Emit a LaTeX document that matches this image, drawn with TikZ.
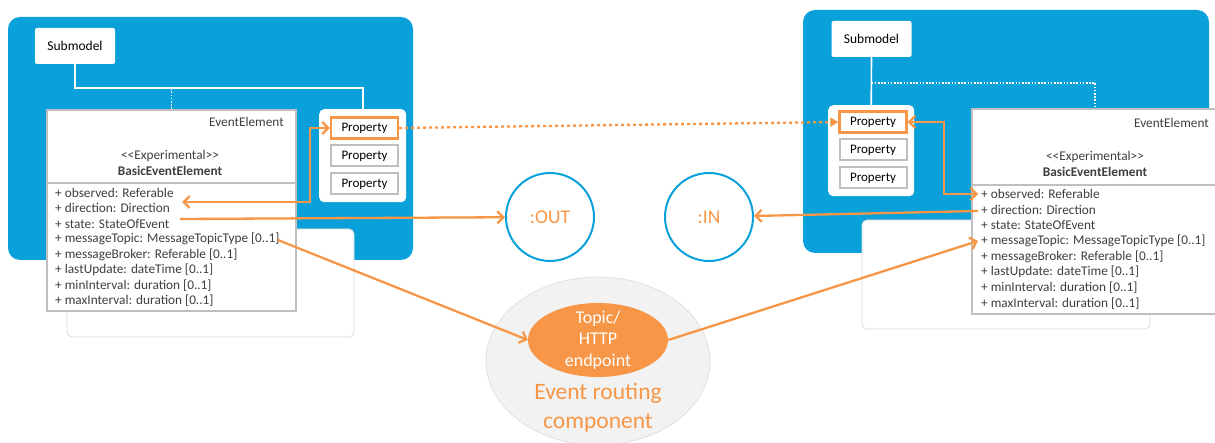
\documentclass[tikz,border=0pt]{standalone}
\usepackage{fontspec}
\setmainfont{Carlito}
\usetikzlibrary{arrows.meta,shapes.geometric}
\definecolor{aasblue}{HTML}{0AA1DA}
\definecolor{evorange}{HTML}{F79646}
\definecolor{txtgray}{HTML}{3F3F3F}
\definecolor{boxgray}{HTML}{BFBFBF}
\definecolor{routegray}{HTML}{F2F2F2}

\begin{document}
\begin{tikzpicture}[x=1pt,y=-1pt,
  panel/.style={fill=aasblue, rounded corners=12pt},
  shadowbox/.style={fill=white, draw=black!15, line width=0.8pt, rounded corners=5pt},
  smbox/.style={fill=white, rounded corners=2pt, minimum width=80pt, minimum height=36pt,
    inner sep=0pt, text=black, font=\fontsize{13.5}{15}\selectfont},
  container/.style={fill=white, rounded corners=5pt},
  propbox/.style={draw=boxgray, line width=2pt, fill=white, minimum width=67pt,
    minimum height=21pt, inner sep=0pt, text=black, font=\fontsize{13}{15}\selectfont},
  propsel/.style={propbox, draw=evorange, line width=2.3pt},
  eebox/.style={draw=boxgray, line width=2pt, fill=white},
  lbl/.style={inner sep=0pt, text=txtgray, font=\fontsize{13.3}{15}\selectfont},
  attr/.style={lbl, anchor=west},
  tree/.style={draw=white, line width=1.6pt},
  treedot/.style={tree, dash pattern=on 1.6pt off 1.6pt},
  flow/.style={draw=evorange, line width=2.3pt},
  barb/.tip={Straight Barb[length=6pt,width=12pt,line width=2.3pt]},
  port/.style={circle, draw=aasblue, line width=2pt, minimum size=88pt, inner sep=0pt,
    text=evorange, font=\fontsize{19.5}{22}\selectfont},
]
\useasboundingbox (0,0) rectangle (1215,443);
\clip (0,0) rectangle (1215,443);

% ---------------- left asset ----------------
\fill[panel] (8,17) rectangle (413,260);
\draw[shadowbox] (67,229) rectangle (354,337);
\node[smbox] (smL) at (75,46) {Submodel};
\node[eebox, anchor=north west, minimum width=249pt, minimum height=201pt, inner sep=0pt] (eeL) at (46,109) {};
\draw[boxgray, line width=1.5pt] (46,183) -- (295,183);
\node[lbl, anchor=east] (eeLt) at (284,122) {EventElement};
\node[lbl] (eeLs) at (170,156) {<\kern0pt<Experimental>\kern0pt>};
\node[lbl, font=\fontsize{13.3}{15}\selectfont\bfseries] (eeLn) at (170,171) {BasicEventElement};
\foreach \t [count=\i] in {{+ observed: Referable},{+ direction: Direction},{+ state: StateOfEvent},
  {+ messageTopic: MessageTopicType [0..1]},{+ messageBroker: Referable [0..1]},
  {+ lastUpdate: dateTime [0..1]},{+ minInterval: duration [0..1]},{+ maxInterval: duration [0..1]}}
  \node[attr] (la\i) at (55,{193+15.4*(\i-1)}) {\t};
\node[container, anchor=north west, minimum width=87pt, minimum height=93pt] (pcL) at (319,109) {};
\node[propsel] (lp1) at (364.5,128) {Property};
\node[propbox] (lp2) at (364.5,156) {Property};
\node[propbox] (lp3) at (364.5,184) {Property};
\draw[tree] (smL.south) -- ++(0,24) -| (pcL.north);
\draw[treedot] (eeL.north) -- ++(0,-21);

% ---------------- right asset ----------------
\fill[panel] (803,10) rectangle (1209,253);
\draw[shadowbox] (862,220) rectangle (1150,329);
\node[smbox] (smR) at (871.5,39) {Submodel};
\node[container, anchor=north west, minimum width=86pt, minimum height=91pt] (pcR) at (828,105) {};
\node[propsel] (rp1) at (873,122) {Property};
\node[propbox] (rp2) at (873,150) {Property};
\node[propbox] (rp3) at (873,178) {Property};
\node[eebox, anchor=north west, minimum width=260pt, minimum height=205pt, inner sep=0pt] (eeR) at (971,108) {};
\draw[boxgray, line width=1.5pt] (971,185) -- (1230,185);
\node[lbl, anchor=east] (eeRt) at (1209,123) {EventElement};
\node[lbl] (eeRs) at (1095,157) {<\kern0pt<Experimental>\kern0pt>};
\node[lbl, font=\fontsize{13.3}{15}\selectfont\bfseries] (eeRn) at (1095,172) {BasicEventElement};
\foreach \t [count=\i] in {{+ observed: Referable},{+ direction: Direction},{+ state: StateOfEvent},
  {+ messageTopic: MessageTopicType [0..1]},{+ messageBroker: Referable [0..1]},
  {+ lastUpdate: dateTime [0..1]},{+ minInterval: duration [0..1]},{+ maxInterval: duration [0..1]}}
  \node[attr] (ra\i) at (981,{194+15.6*(\i-1)}) {\t};
\draw[tree] (smR.south) -- (pcR.north);
\coordinate (eeRtop) at (1095,108);
\draw[treedot] (smR.south |- 0,83) -| (eeRtop);

% ---------------- event routing ----------------
\node[ellipse, fill=routegray, draw=black!12, line width=0.8pt, minimum width=224pt, minimum height=168pt] (route) at (598,361) {};
\node[ellipse, fill=evorange, minimum width=140pt, minimum height=74pt, inner sep=0pt] (topic) at (598,340) {};
\node[text=white, align=center, inner sep=0pt, font=\fontsize{18}{21.5}\selectfont] (topiclbl) at (topic) {Topic/\\HTTP\\endpoint};
\node[text=evorange, align=center, font=\fontsize{23.5}{29}\selectfont] (routelbl) at (598,408) {Event routing\\component};

\node[port] (out) at (550,217) {:OUT};
\node[port] (in) at (709,217) {:IN};

% ---------------- connectors ----------------
\coordinate (obsL) at (182,202);
\coordinate (stL) at (180,219);
\coordinate (mtL) at (278,240);
\coordinate (obsR) at (978,194);
\coordinate (dirR) at (978,211);
\coordinate (mtR) at (978,241);

\draw[flow, dash pattern=on 3pt off 3pt, -{Triangle[length=8pt,width=9pt]}] (lp1.east) -- (rp1.west);
\draw[flow, barb-barb] (lp1.west) -- ++(-20,0) |- (obsL);
\draw[flow, -barb] (stL) -- (out);
\draw[flow, -barb] (mtL) -- (topic.west);
\draw[flow, barb-barb] (rp1.east) -- ++(36,0) |- (obsR);
\draw[flow, -barb] (dirR) -- (in);
\draw[flow, -barb] (topic.east) -- (mtR);
\end{tikzpicture}
\end{document}
